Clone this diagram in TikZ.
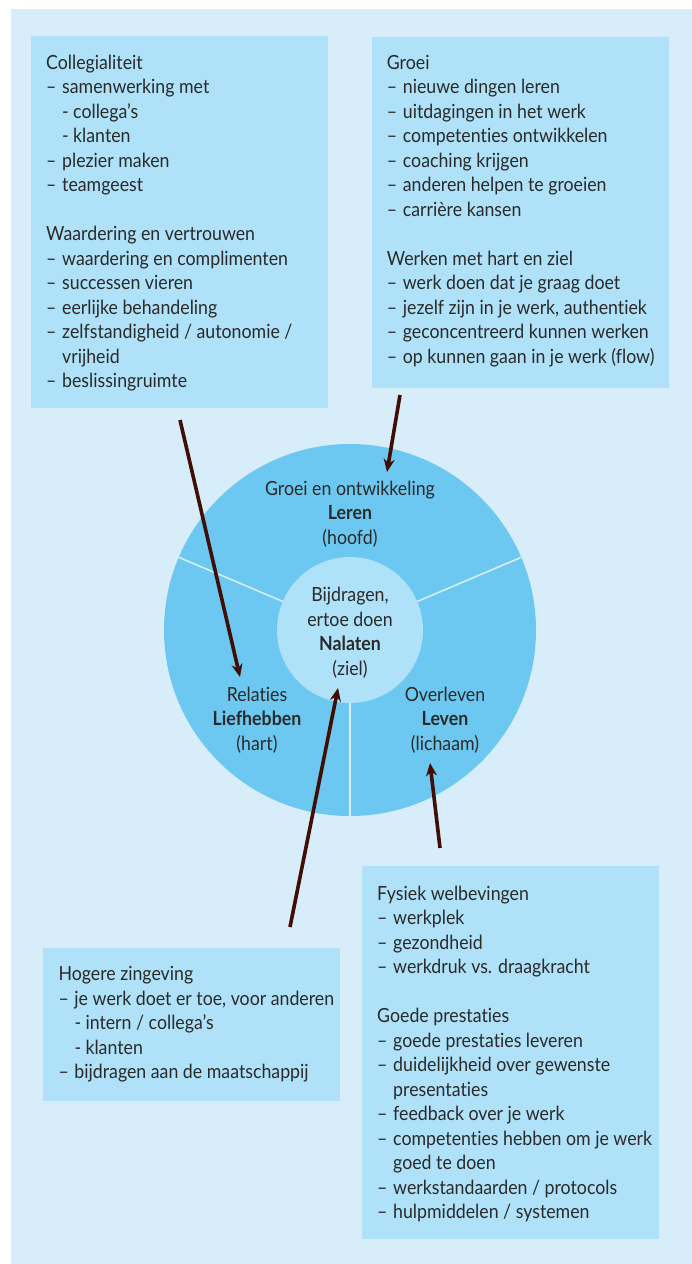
\documentclass[tikz,border=0pt]{standalone}
\usepackage{fontspec}
\setmainfont{Lato}[FakeStretch=0.91, Ligatures=NoCommon]
\usetikzlibrary{arrows.meta}
\definecolor{bgblue}{HTML}{D7EDFA}
\definecolor{boxblue}{HTML}{AFE1F8}
\definecolor{ringblue}{HTML}{6CC8F0}
\definecolor{txt}{HTML}{2A2A2A}
\definecolor{arrowbrown}{HTML}{3F0F05}
\newcommand\di[1]{\makebox[16pt][l]{–}#1}
\newcommand\si[1]{\hspace*{16pt}\makebox[11pt][l]{-}#1}
\newcommand\ci[1]{\hspace*{16pt}#1}
\tikzset{
  panel/.style={fill=boxblue, draw=none, anchor=north west, inner sep=0pt},
  listtext/.style={anchor=north west, inner sep=0pt, align=left, text=txt,
    font=\fontsize{19.5}{24.5}\selectfont},
  circtext/.style={anchor=center, inner sep=0pt, align=center, text=txt,
    font=\fontsize{19.5}{24.5}\selectfont},
  divider/.style={draw=bgblue, line width=1.6pt},
  pointer/.style={draw=arrowbrown, line width=3.6pt,
    -{Stealth[length=13pt,width=11pt]}}
}
\begin{document}
\begin{tikzpicture}[x=1pt,y=-1pt]
\useasboundingbox (0,0) rectangle (692,1264);
\fill[white] (0,0) rectangle (692,1264);
\fill[bgblue] (11,9) rectangle (692,1264);

% panels
\node[panel, minimum width=297pt, minimum height=372pt] (p1) at (31,36) {};
\node[panel, minimum width=297pt, minimum height=351pt] (p2) at (372,37) {};
\node[panel, minimum width=297pt, minimum height=153pt] (p3) at (43,948) {};
\node[panel, minimum width=297pt, minimum height=373pt] (p4) at (362,866) {};

\node[listtext] (t1) at (46,51.9) {\strut Collegialiteit\\
\di{samenwerking met}\\
\si{collega’s}\\
\si{klanten}\\
\di{plezier maken}\\
\di{teamgeest}\\
\mbox{}\\
Waardering en vertrouwen\\
\di{waardering en complimenten}\\
\di{successen vieren}\\
\di{eerlijke behandeling}\\
\di{zelfstandigheid / autonomie /}\\
\ci{vrijheid}\\
\di{beslissingruimte}};

\node[listtext] (t2) at (386.7,51.9) {\strut Groei\\
\di{nieuwe dingen leren}\\
\di{uitdagingen in het werk}\\
\di{competenties ontwikkelen}\\
\di{coaching krijgen}\\
\di{anderen helpen te groeien}\\
\di{carrière kansen}\\
\mbox{}\\
Werken met hart en ziel\\
\di{werk doen dat je graag doet}\\
\di{jezelf zijn in je werk, authentiek}\\
\di{geconcentreerd kunnen werken}\\
\di{op kunnen gaan in je werk (flow)}};

\node[listtext] (t3) at (58.3,963.5) {\strut Hogere zingeving\\
\di{je werk doet er toe, voor anderen}\\
\si{intern / collega’s}\\
\si{klanten}\\
\di{bijdragen aan de maatschappij}};

\node[listtext] (t4) at (377,882.9) {\strut Fysiek welbevingen\\
\di{werkplek}\\
\di{gezondheid}\\
\di{werkdruk vs. draagkracht}\\
\mbox{}\\
Goede prestaties\\
\di{goede prestaties leveren}\\
\di{duidelijkheid over gewenste}\\
\ci{presentaties}\\
\di{feedback over je werk}\\
\di{competenties hebben om je werk}\\
\ci{goed te doen}\\
\di{werkstandaarden / protocols}\\
\di{hulpmiddelen / systemen}};

% wheel
\node[circle, fill=ringblue, minimum size=372pt, inner sep=0pt] (ring) at (350,630) {};
\draw[divider] (282.8,601.5) -- (178.8,557.3);
\draw[divider] (417.2,601.5) -- (521.2,557.3);
\draw[divider] (350,703) -- (350,816);
\node[circle, fill=boxblue, minimum size=146pt, inner sep=0pt] (core) at (350,630) {};

\node[circtext] (top) at (350,514) {Groei en ontwikkeling\\\textbf{Leren}\\(hoofd)};
\node[circtext] (mid) at (350,632.5) {Bijdragen,\\ertoe doen\\\textbf{Nalaten}\\(ziel)};
\node[circtext] (left) at (257,720) {Relaties\\\textbf{Liefhebben}\\(hart)};
\node[circtext] (right) at (445,720) {Overleven\\\textbf{Leven}\\(lichaam)};

% arrows
\coordinate (a1s) at (180,420);
\coordinate (a1e) at (240,677);
\coordinate (a2s) at (400,395);
\coordinate (a2e) at (387,472);
\coordinate (a3s) at (290,927);
\coordinate (a3e) at (338,688);
\coordinate (a4s) at (440,848);
\coordinate (a4e) at (430,763);
\draw[pointer] (a1s) -- (a1e);
\draw[pointer] (a2s) -- (a2e);
\draw[pointer] (a3s) -- (a3e);
\draw[pointer] (a4s) -- (a4e);
\end{tikzpicture}
\end{document}
